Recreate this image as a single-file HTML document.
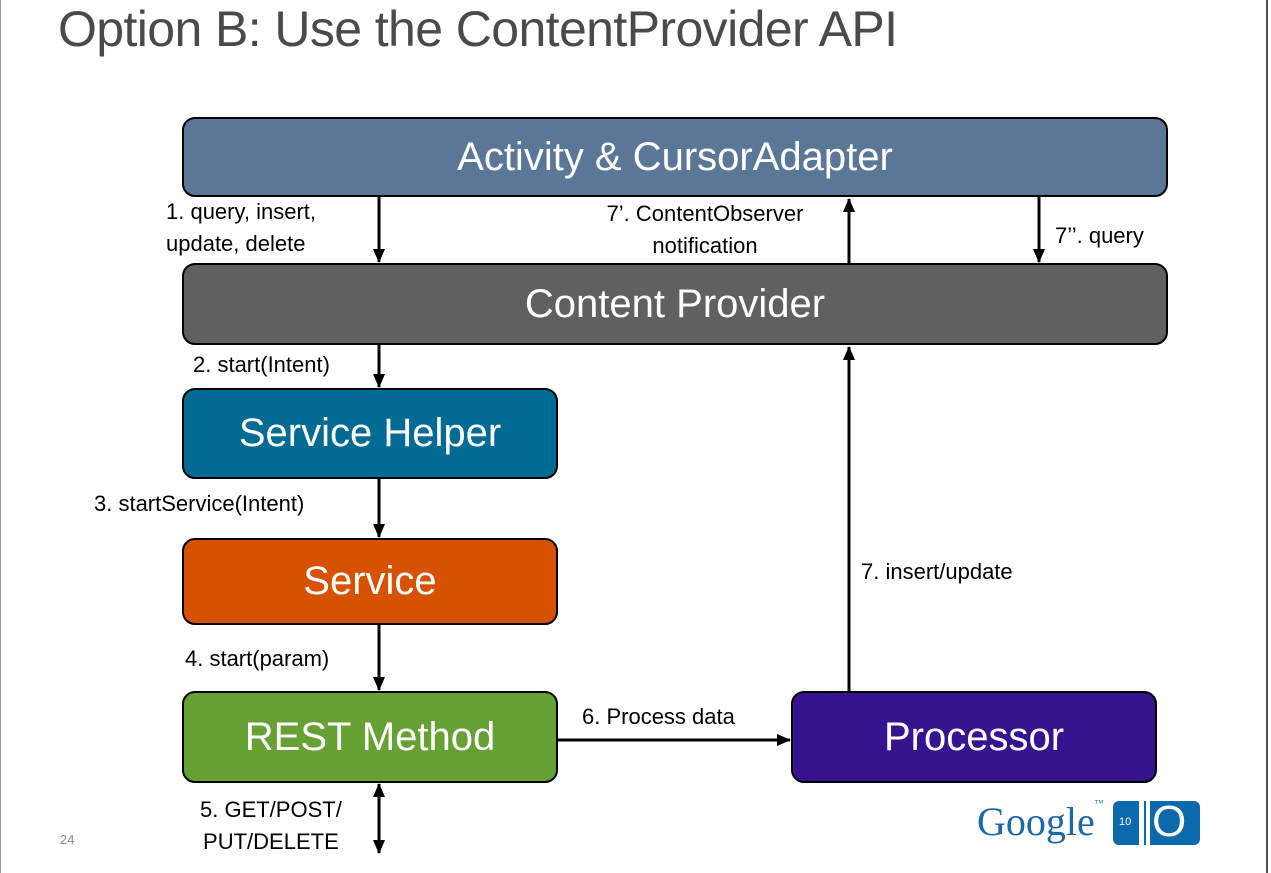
<!DOCTYPE html>
<html><head><style>
body{margin:0;width:1271px;height:873px;background:#fff;position:relative;overflow:hidden;font-family:"Liberation Sans",sans-serif}
.b{position:absolute;border:2px solid #000;border-radius:13px;color:#fff;display:flex;align-items:center;justify-content:center;font-size:40px;box-sizing:border-box}
.l{position:absolute;font-size:22px;color:#000;line-height:32px}
</style></head><body>
<div style="position:absolute;left:0;top:0;width:1px;height:873px;background:#999"></div>
<div style="position:absolute;left:1266px;top:0;width:2px;height:873px;background:#555"></div>
<div style="position:absolute;left:58px;top:0px;font-size:50px;color:#4a4a4a;letter-spacing:-0.6px">Option B: Use the ContentProvider API</div>
<div class="b" style="left:182px;top:117px;width:986px;height:80px;background:#5b7797">Activity &amp; CursorAdapter</div>
<div class="b" style="left:182px;top:263px;width:986px;height:82px;background:#606060">Content Provider</div>
<div class="b" style="left:182px;top:388px;width:376px;height:91px;background:#026b93">Service Helper</div>
<div class="b" style="left:182px;top:538px;width:376px;height:87px;background:#d65100">Service</div>
<div class="b" style="left:182px;top:691px;width:376px;height:92px;background:#67a035">REST Method</div>
<div class="b" style="left:791px;top:691px;width:366px;height:92px;background:#36148f">Processor</div>
<svg width="1271" height="873" style="position:absolute;left:0;top:0">
<defs><marker id="a" markerWidth="14" markerHeight="14" refX="13" refY="7" orient="auto" markerUnits="userSpaceOnUse"><path d="M0,1L14,7L0,13z"/></marker></defs>
<g stroke="#000" stroke-width="3" fill="none" marker-end="url(#a)">
<line x1="379" y1="197" x2="379" y2="262"/>
<line x1="849" y1="263" x2="849" y2="199"/>
<line x1="1039" y1="197" x2="1039" y2="262"/>
<line x1="379" y1="345" x2="379" y2="387"/>
<line x1="379" y1="479" x2="379" y2="537"/>
<line x1="379" y1="625" x2="379" y2="690"/>
<line x1="379" y1="805" x2="379" y2="784"/>
<line x1="379" y1="790" x2="379" y2="853"/>
<line x1="558" y1="740" x2="790" y2="740"/>
<line x1="849" y1="691" x2="849" y2="347"/>
</g></svg>
<div class="l" style="left:166px;top:196px">1. query, insert,<br>update, delete</div>
<div class="l" style="left:580px;top:198px;text-align:center;width:250px">7’. ContentObserver<br>notification</div>
<div class="l" style="left:1055px;top:220px">7’’. query</div>
<div class="l" style="left:193px;top:349px">2. start(Intent)</div>
<div class="l" style="left:94px;top:488px">3. startService(Intent)</div>
<div class="l" style="left:185px;top:643px">4. start(param)</div>
<div class="l" style="left:582px;top:701px">6. Process data</div>
<div class="l" style="left:861px;top:556px">7. insert/update</div>
<div class="l" style="left:200px;top:794px;text-align:center">5. GET/POST/<br>PUT/DELETE</div>
<div style="position:absolute;left:60px;top:832px;font-size:13px;color:#888">24</div>
<div style="position:absolute;left:977px;top:798px;font-family:'Liberation Serif',serif;font-size:40px;color:#1c68a8">Google<span style="font-size:9px;vertical-align:top">™</span></div>
<div style="position:absolute;left:1113px;top:801px;width:87px;height:44px;background:#0b69ac;border-radius:6px;color:#fff">
<span style="position:absolute;left:6px;top:15px;font-size:11px">10</span>
<div style="position:absolute;left:26px;top:-1px;width:11px;height:46px;background:#fff"></div>
<div style="position:absolute;left:31px;top:0;width:2px;height:44px;background:#0b69ac"></div>
<span style="position:absolute;left:39px;top:-4px;font-size:44px">O</span></div>
</body></html>
